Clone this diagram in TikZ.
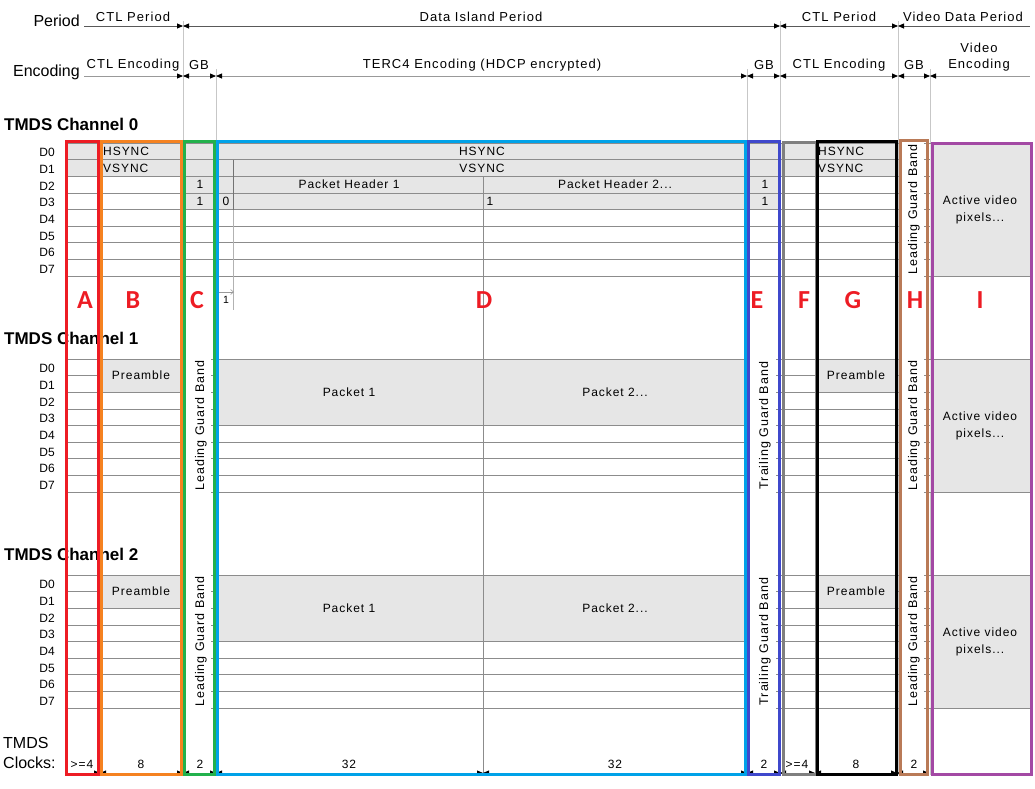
\documentclass[tikz,border=0pt]{standalone}
\usepackage{fontspec}
\setmainfont{Liberation Sans}
\newfontfamily\spacedfont{Liberation Sans}[LetterSpace=8]
\newfontfamily\markfont{Carlito}
\usetikzlibrary{arrows.meta}

\definecolor{cellgray}{HTML}{E6E6E6}
\definecolor{gridgray}{HTML}{8C8C8C}
\definecolor{boxA}{HTML}{ED1C24}
\definecolor{boxB}{HTML}{F58220}
\definecolor{boxC}{HTML}{22B14C}
\definecolor{boxD}{HTML}{00A2E8}
\definecolor{boxE}{HTML}{3F48CC}
\definecolor{boxF}{HTML}{7F7F7F}
\definecolor{boxG}{HTML}{000000}
\definecolor{boxH}{HTML}{B97A57}
\definecolor{boxI}{HTML}{A349A4}
\definecolor{markred}{HTML}{ED1C24}

\tikzset{
  tabtxt/.style={font=\spacedfont\fontsize{12}{14}\selectfont, inner sep=0pt},
  hdrtxt/.style={font=\spacedfont\fontsize{13}{15}\selectfont, inner sep=0pt},
  sidetxt/.style={font=\fontsize{16}{19}\selectfont, inner sep=0pt},
  dtxt/.style={font=\fontsize{12}{14}\selectfont, anchor=east, inner sep=0pt},
  chtxt/.style={font=\bfseries\fontsize{17}{20}\selectfont, anchor=west, inner sep=0pt},
  bandtxt/.style={font=\spacedfont\fontsize{12.5}{14}\selectfont, inner sep=0pt, rotate=90},
  collabel/.style={font=\markfont\bfseries\fontsize{26}{28}\selectfont, text=markred, inner sep=0pt},
  clktxt/.style={font=\spacedfont\fontsize{12}{14}\selectfont, inner sep=0pt},
  gridline/.style={draw=gridgray, line width=0.9pt},
  guide/.style={draw=black!22, line width=0.8pt},
  perline/.style={draw=black!65, line width=0.8pt},
  encline/.style={draw=black!40, line width=0.8pt},
  clkline/.style={draw=black!40, line width=0.8pt},
  colbox/.style={line width=3pt},
  >={Triangle[length=6pt,width=5pt,color=black]}
}

\begin{document}
\begin{tikzpicture}[x=1pt,y=-1pt]
\useasboundingbox (0,0) rectangle (1035,788);
\def\rh{16.65}

% period boundary guides
\foreach \x/\t in {183/21, 216/69, 747/69, 780/21, 898/21, 930/69}
  \draw[guide] (\x,\t) -- (\x,775);

% ---------- period row ----------
\foreach \i/\x in {0/84,1/183,2/780,3/898,4/1030}
  \coordinate (per\i) at (\x,26);
\draw[perline,->] (per0) -- (per1);
\draw[perline,<->] (per1) -- (per2);
\draw[perline,<->] (per2) -- (per3);
\draw[perline,<-] (per3) -- (per4);
\node[sidetxt,anchor=east] (lblPeriod) at (80,21) {Period};
\node[hdrtxt] (perA) at (133,17) {CTL Period};
\node[hdrtxt] (perB) at (481,17) {Data Island Period};
\node[hdrtxt] (perC) at (839,17) {CTL Period};
\node[hdrtxt] (perD) at (963,17) {Video Data Period};

% ---------- encoding row ----------
\foreach \i/\x in {0/84,1/183,2/216,3/747,4/780,5/898,6/930,7/1030}
  \coordinate (enc\i) at (\x,76);
\draw[encline,->] (enc0) -- (enc1);
\foreach \i [evaluate=\i as \j using int(\i+1)] in {1,...,5}
  \draw[encline,<->] (enc\i) -- (enc\j);
\draw[encline,<-] (enc6) -- (enc7);
\node[sidetxt,anchor=east] (lblEnc) at (80,72) {Encoding};
\node[hdrtxt] (encA) at (133,65) {CTL Encoding};
\node[hdrtxt] (encB) at (199,65) {GB};
\node[hdrtxt] (encC) at (482,65) {TERC4 Encoding (HDCP encrypted)};
\node[hdrtxt] (encD) at (764,65) {GB};
\node[hdrtxt] (encE) at (839,65) {CTL Encoding};
\node[hdrtxt] (encF) at (914,65) {GB};
\node[hdrtxt,align=center] (encG) at (979,57) {Video\\[1pt]Encoding};

% ---------- channel titles ----------
\node[chtxt] (ch0) at (4,124) {TMDS Channel 0};
\node[chtxt] (ch1) at (4,338) {TMDS Channel 1};
\node[chtxt] (ch2) at (4,554) {TMDS Channel 2};

% ---------- channel 0 single-row cells ----------
\fill[cellgray] (66,143) rectangle (897,143+2*\rh);
\fill[cellgray] (183,143+2*\rh) rectangle (780,143+4*\rh);

% ---------- row lines and bit labels ----------
\foreach \b/\n in {143/0,359/1,575/2}{
  \foreach \k in {0,...,8}
    \draw[gridline] (66,\b+\k*\rh) -- (1031,\b+\k*\rh);
  \foreach \k in {0,...,7}
    \node[dtxt] (d\n\k) at (55,\b+\k*\rh+0.5*\rh+1.5) {D\k};
}

% ---------- merged cells (cover the inner row lines) ----------
\fill[cellgray] (930,143.5) rectangle (1031,143+8*\rh-0.5);
\foreach \b in {359,575}{
  \fill[cellgray] (101,\b+0.5) rectangle (183,\b+2*\rh-0.5);
  \fill[cellgray] (216,\b+0.5) rectangle (747,\b+4*\rh-0.5);
  \fill[cellgray] (816,\b+0.5) rectangle (897,\b+2*\rh-0.5);
  \fill[cellgray] (930,\b+0.5) rectangle (1031,\b+8*\rh-0.5);
}

% inner separators
\draw[draw=black!30, line width=0.8pt] (233,143+\rh) -- (233,310);
\draw[draw=black!55, line width=0.8pt] (233,143+\rh) -- (233,143+4*\rh);
\draw[draw=black!45, line width=0.8pt] (483,143+2*\rh) -- (483,775);
\coordinate (bitA) at (219,292);
\coordinate (bitB) at (234,292);
\draw[draw=black!40, line width=0.6pt, -{Straight Barb[length=3pt,width=5pt]}] (bitA) -- (bitB);
\node[font=\fontsize{10.5}{12}\selectfont, inner sep=0pt] (bitone) at (226,300) {1};

% guard band columns: blank out the middle of the row lines
\fill[white] (899,143) rectangle (923.5,143+8*\rh+0.6);
\foreach \b in {359,575}{
  \fill[white] (184,\b-0.6) rectangle (211,\b+8*\rh+0.6);
  \fill[white] (748,\b-0.6) rectangle (775.5,\b+8*\rh+0.6);
  \fill[white] (899,\b-0.6) rectangle (923.5,\b+8*\rh+0.6);
}

% ---------- channel 0 texts ----------
\node[tabtxt,anchor=west] (c0hsA) at (103,143+0.5*\rh) {HSYNC};
\node[tabtxt,anchor=west] (c0vsA) at (103,143+1.5*\rh) {VSYNC};
\node[tabtxt] (c0hsB) at (482,143+0.5*\rh) {HSYNC};
\node[tabtxt] (c0vsB) at (482,143+1.5*\rh) {VSYNC};
\node[tabtxt,anchor=west] (c0hsC) at (818,143+0.5*\rh) {HSYNC};
\node[tabtxt,anchor=west] (c0vsC) at (818,143+1.5*\rh) {VSYNC};
\node[tabtxt] (c0d2a) at (200,143+2.5*\rh) {1};
\node[tabtxt] (c0d2b) at (349,143+2.5*\rh) {Packet Header 1};
\node[tabtxt] (c0d2c) at (615,143+2.5*\rh) {Packet Header 2...};
\node[tabtxt] (c0d2d) at (765,143+2.5*\rh) {1};
\node[tabtxt] (c0d3a) at (200,143+3.5*\rh) {1};
\node[tabtxt] (c0d3b) at (226,143+3.5*\rh) {0};
\node[tabtxt] (c0d3c) at (490,143+3.5*\rh) {1};
\node[tabtxt] (c0d3d) at (765,143+3.5*\rh) {1};
\node[bandtxt] (c0lgb) at (914,143+4*\rh) {Leading Guard Band};
\node[tabtxt,align=center] (c0act) at (980,143+4*\rh) {Active video\\[3pt]pixels...};

% ---------- channel 1/2 texts ----------
\foreach \b/\n in {359/1,575/2}{
  \node[tabtxt] (pre\n a) at (141,\b+\rh) {Preamble};
  \node[tabtxt] (pre\n b) at (856,\b+\rh) {Preamble};
  \node[tabtxt] (pk\n a) at (349,\b+2*\rh) {Packet 1};
  \node[tabtxt] (pk\n b) at (615,\b+2*\rh) {Packet 2...};
  \node[bandtxt] (lgb\n a) at (201,\b+4*\rh) {Leading Guard Band};
  \node[bandtxt] (tgb\n) at (765,\b+4*\rh) {Trailing Guard Band};
  \node[bandtxt] (lgb\n b) at (914,\b+4*\rh) {Leading Guard Band};
  \node[tabtxt,align=center] (act\n) at (980,\b+4*\rh) {Active video\\[3pt]pixels...};
}

% ---------- TMDS clocks row ----------
\node[sidetxt,anchor=west] (clkA) at (3,743) {TMDS};
\node[sidetxt,anchor=west] (clkB) at (3,763) {Clocks:};
\foreach \i/\x in {0/67,1/100,2/183,3/216,4/483,5/747,6/780,7/815,8/897,9/929}
  \coordinate (clk\i) at (\x,773);
\draw[clkline,->] (clk0) -- (clk1);
\foreach \i [evaluate=\i as \j using int(\i+1)] in {1,...,8}
  \draw[clkline,<->] (clk\i) -- (clk\j);
\node[clktxt] (n0) at (82,764) {>=4};
\node[clktxt] (n1) at (141,764) {8};
\node[clktxt] (n2) at (200,764) {2};
\node[clktxt] (n3) at (349,764) {32};
\node[clktxt] (n4) at (615,764) {32};
\node[clktxt] (n5) at (764,764) {2};
\node[clktxt] (n6) at (797,764) {>=4};
\node[clktxt] (n7) at (856,764) {8};
\node[clktxt] (n8) at (914,764) {2};

% ---------- coloured section frames ----------
\draw[colbox,boxA] (66.5,141.5) rectangle (98.5,774.5);
\draw[colbox,boxB] (101.5,141.5) rectangle (181.5,774.5);
\draw[colbox,boxC] (184.5,141.5) rectangle (214.5,774.5);
\draw[colbox,boxD] (217.5,141.5) rectangle (745,774.5);
\draw[colbox,boxE] (748.5,141.5) rectangle (779,774.5);
\draw[colbox,boxF] (783.5,142.5) rectangle (816,774.5);
\draw[colbox,boxG] (817,141.5) rectangle (896.5,774.5);
\draw[colbox,boxH] (900,140.5) rectangle (927.5,774.5);
\draw[colbox,boxI] (932,143) rectangle (1031.5,774.5);

% ---------- section letters ----------
\foreach \l/\x in {A/85,B/133,C/197,D/484,E/757,F/804,G/853,H/915,I/980}
  \node[collabel] (lab\l) at (\x,300) {\l};
\end{tikzpicture}
\end{document}
